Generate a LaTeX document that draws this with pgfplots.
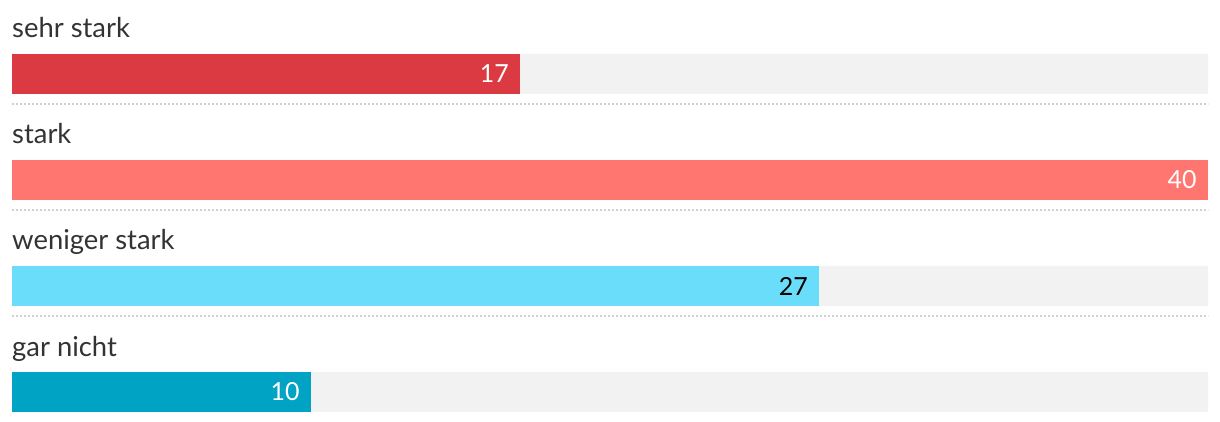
\documentclass[border=0pt]{standalone}
\usepackage{pgfplots}
\pgfplotsset{compat=1.18}
\usepackage{fontspec}
\setmainfont{Lato}
\definecolor{cRed}{RGB}{220,58,66}
\definecolor{cSalmon}{RGB}{255,117,111}
\definecolor{cLight}{RGB}{105,221,249}
\definecolor{cTeal}{RGB}{0,163,196}
\definecolor{cBg}{RGB}{242,242,242}
\definecolor{cText}{RGB}{51,51,51}
\definecolor{cDot}{RGB}{208,208,208}
\begin{document}
\begin{tikzpicture}
\begin{axis}[
  scale only axis, width=1220bp, height=422bp,
  xmin=-0.40134, xmax=40.40134,
  ymin=0, ymax=422, y dir=reverse,
  hide axis, clip=false,
  xbar, bar width=40, bar shift=0pt,
  /pgf/number format/assume math mode=true,
]
\addplot[fill=cBg, draw=none] coordinates {(40,74) (40,180) (40,286) (40,392)};
\addplot[fill=cRed, draw=none, nodes near coords, point meta=x,
  every node near coord/.style={anchor=east, xshift=-8bp, font=\fontsize{25}{28}\selectfont, text=white}]
  coordinates {(17,74)};
\addplot[fill=cSalmon, draw=none, nodes near coords, point meta=x,
  every node near coord/.style={anchor=east, xshift=-8bp, font=\fontsize{25}{28}\selectfont, text=white}]
  coordinates {(40,180)};
\addplot[fill=cLight, draw=none, nodes near coords, point meta=x,
  every node near coord/.style={anchor=east, xshift=-8bp, font=\fontsize{25}{28}\selectfont, text=black}]
  coordinates {(27,286)};
\addplot[fill=cTeal, draw=none, nodes near coords, point meta=x,
  every node near coord/.style={anchor=east, xshift=-8bp, font=\fontsize{25}{28}\selectfont, text=white}]
  coordinates {(10,392)};
\foreach \yy in {104,210,316} {
  \edef\tmp{\noexpand\draw[cDot, line width=1.5bp, dash pattern=on 2bp off 2bp] (axis cs:0,\yy) -- (axis cs:40,\yy);}
  \tmp
}
\foreach \yy/\lab in {38/sehr stark,144/stark,250/weniger stark,357/gar nicht} {
  \edef\tmp{\noexpand\node[anchor=base west, inner sep=0pt, text=cText, font=\noexpand\fontsize{27.5}{30}\noexpand\selectfont] at (axis cs:0,\yy) {\lab};}
  \tmp
}
\end{axis}
\path (current axis.south west) rectangle (current axis.north east);
\end{tikzpicture}
\end{document}
